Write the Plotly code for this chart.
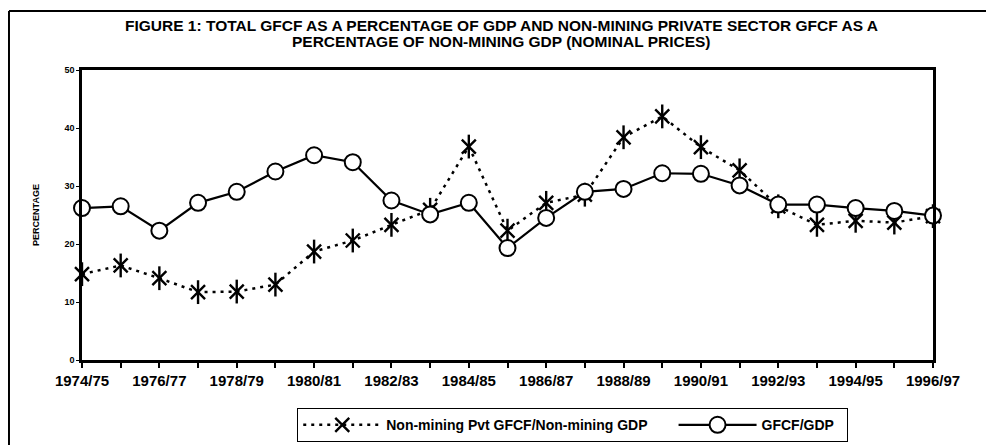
import plotly.graph_objects as go

years = ["1974/75", "1975/76", "1976/77", "1977/78", "1978/79", "1979/80", "1980/81",
         "1981/82", "1982/83", "1983/84", "1984/85", "1985/86", "1986/87", "1987/88",
         "1988/89", "1989/90", "1990/91", "1991/92", "1992/93", "1993/94", "1994/95",
         "1995/96", "1996/97"]
pvt_gfcf = [14.8, 16.3, 14.1, 11.7, 11.8, 13.0, 18.7, 20.6, 23.3, 25.9, 36.8, 22.3,
            27.1, 28.5, 38.4, 42.0, 36.7, 32.7, 26.5, 23.3, 24.0, 23.7, 24.8]
gfcf_gdp = [26.2, 26.5, 22.3, 27.1, 29.0, 32.5, 35.3, 34.1, 27.5, 25.1, 27.1, 19.3,
            24.5, 29.0, 29.5, 32.2, 32.1, 30.1, 26.8, 26.8, 26.2, 25.7, 24.9]
y_ticks = [0, 10, 20, 30, 40, 50]
title_lines = ["FIGURE 1: TOTAL GFCF AS A PERCENTAGE OF GDP AND NON-MINING PRIVATE SECTOR GFCF AS A",
               "PERCENTAGE OF NON-MINING GDP (NOMINAL PRICES)"]

xs = list(range(len(years)))
FONT = "Liberation Sans, Arial, sans-serif"
PAD1 = "\u2002" * 3
PAD2 = "\u2002" * 1

fig = go.Figure()
fig.add_trace(go.Scatter(
    x=xs, y=pvt_gfcf, mode="lines+markers",
    name="<b>Non-mining Pvt GFCF/Non-mining GDP</b>" + PAD1,
    line=dict(color="black", width=2.5, dash="3px,5px"),
    marker=dict(symbol="x-thin-open", size=14, color="black",
                line=dict(color="black", width=2.4)),
    cliponaxis=False,
))
fig.add_trace(go.Scatter(
    x=xs, y=pvt_gfcf, mode="markers", showlegend=False, hoverinfo="skip",
    marker=dict(symbol="line-ns-open", size=17, color="black",
                line=dict(color="black", width=2.4)),
    cliponaxis=False,
))
fig.add_trace(go.Scatter(
    x=xs, y=gfcf_gdp, mode="lines+markers", name="<b>GFCF/GDP</b>" + PAD2,
    line=dict(color="black", width=2.2),
    marker=dict(symbol="circle", size=16, color="white",
                line=dict(color="black", width=2)),
    cliponaxis=False,
))

fig.update_layout(
    width=994, height=445,
    margin=dict(l=74, r=69, t=62, b=93, autoexpand=False),
    paper_bgcolor="white", plot_bgcolor="white",
    font=dict(family=FONT, color="black"),
    showlegend=True,
    legend=dict(
        orientation="h", x=0.2527, y=-0.1655, xanchor="left", yanchor="top",
        bordercolor="black", borderwidth=1.2, bgcolor="white",
        font=dict(family=FONT, size=14, color="black"),
        itemwidth=78, tracegroupgap=0,
    ),
    xaxis=dict(
        range=[0, len(years) - 1], tickmode="array",
        tickvals=xs[::2], ticktext=["<b>%s</b>" % t for t in years[::2]],
        ticks="outside", ticklen=5, tickwidth=1.5, tickcolor="black",
        minor=dict(dtick=1, tick0=0, ticks="outside", ticklen=5, tickwidth=1.5, tickcolor="black"),
        showline=True, linecolor="black", linewidth=2.5, mirror=True,
        showgrid=False, zeroline=False, automargin=False,
        tickfont=dict(family=FONT, size=15, color="black"),
    ),
    yaxis=dict(
        range=[0, 50], tickmode="array", tickvals=y_ticks,
        ticktext=["<b>%d</b>" % v for v in y_ticks],
        ticks="outside", ticklen=3, tickwidth=1, tickcolor="black",
        showline=True, linecolor="black", linewidth=2.5, mirror=True,
        showgrid=False, zeroline=False, automargin=False,
        tickfont=dict(family=FONT, size=9, color="black"),
        title=dict(text="<b>PERCENTAGE</b>", font=dict(family=FONT, size=9, color="black"), standoff=24),
    ),
    annotations=[
        dict(text="<b>%s</b>" % title_lines[0], xref="paper", yref="paper",
             x=0.4935, y=1.155, xanchor="center", yanchor="middle",
             showarrow=False, font=dict(family=FONT, size=15.5, color="black")),
        dict(text="<b>%s</b>" % title_lines[1], xref="paper", yref="paper",
             x=0.4935, y=1.0966, xanchor="center", yanchor="middle",
             showarrow=False, font=dict(family=FONT, size=15.5, color="black")),
    ],
    shapes=[
        dict(type="line", xref="paper", yref="paper", x0=-0.0858, x1=-0.0858, y0=-0.4, y1=1.2034,
             line=dict(color="black", width=2)),
        dict(type="line", xref="paper", yref="paper", x0=-0.0858, x1=1.1, y0=1.2034, y1=1.2034,
             line=dict(color="black", width=2)),
    ],
)

fig.write_html("out.html")
